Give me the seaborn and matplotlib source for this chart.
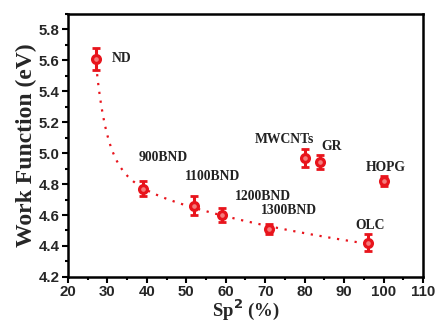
import numpy as np
import pandas as pd
import matplotlib
matplotlib.use("Agg")
import matplotlib.pyplot as plt
import seaborn as sns
from matplotlib.ticker import MultipleLocator

# ---- data ----
labels = ["ND", "900BND", "1100BND", "1200BND", "1300BND", "MWCNTs", "GR", "HOPG", "OLC"]
sp2 = [27, 39, 52, 59, 71, 80, 84, 100, 96]
work_function = [5.61, 4.77, 4.66, 4.60, 4.51, 4.97, 4.94, 4.82, 4.42]
errors = [0.07, 0.05, 0.06, 0.045, 0.035, 0.058, 0.045, 0.032, 0.055]
# samples included in the dotted fit curve
fit_members = ["ND", "900BND", "1100BND", "1200BND", "1300BND", "OLC"]
# label anchor (left, centre) positions in data coords
label_x = [31.0, 37.8, 49.7, 62.4, 69.0, 67.4, 84.3, 95.4, 92.8]
label_y = [5.61, 4.97, 4.85, 4.72, 4.63, 5.09, 5.04, 4.91, 4.53]

df = pd.DataFrame({"label": labels, "sp2": sp2, "wf": work_function, "err": errors})

# ---- least-squares fit y = c + d*ln(x) + a*x^b to the chosen samples (grid over b) ----
fd = df[df["label"].isin(fit_members)]
xf = fd["sp2"].to_numpy(float)
yf = fd["wf"].to_numpy(float)
best = None
for b in np.linspace(-20, -1.0, 1900):
    A = np.vstack([np.ones_like(xf), np.log(xf), xf ** b]).T
    coef, *_ = np.linalg.lstsq(A, yf, rcond=None)
    r = np.sum((A @ coef - yf) ** 2)
    if best is None or r < best[0]:
        best = (r, b, coef)
_, bb, coef = best
xc = np.linspace(xf.min() + 0.4, xf.max(), 400)
Ac = np.vstack([np.ones_like(xc), np.log(xc), xc ** bb]).T
curve = pd.DataFrame({"x": xc, "y": Ac @ coef})

sns.set_style("ticks")
plt.rcParams["font.family"] = ["Liberation Sans", "DejaVu Sans"]

fig = plt.figure(figsize=(4.38, 3.22), dpi=100)
ax = fig.add_axes([0.155, 0.140, 0.811, 0.817])

red = "#e8141c"
sns.lineplot(data=curve, x="x", y="y", ax=ax, color=red, linestyle=(0, (1, 3)),
             linewidth=1.6, legend=False)
ax.errorbar(df["sp2"], df["wf"], yerr=df["err"], fmt="none", ecolor=red,
            elinewidth=2.2, capsize=3.2, capthick=2.0, zorder=3)
sns.scatterplot(data=df, x="sp2", y="wf", ax=ax, marker="o", s=32,
                facecolor="#f47c7c", edgecolor=red, linewidth=2.3, zorder=4, legend=False)

for t, x, y in zip(labels, label_x, label_y):
    ax.text(x, y, t, ha="left", va="center", fontsize=9.8, fontweight="bold",
            family="Liberation Serif", color="#222222")

ax.set_xlim(20, 110)
ax.set_ylim(4.2, 5.9)
ax.xaxis.set_major_locator(MultipleLocator(10))
ax.xaxis.set_minor_locator(MultipleLocator(5))
ax.yaxis.set_major_locator(MultipleLocator(0.2))
ax.yaxis.set_minor_locator(MultipleLocator(0.1))
ax.tick_params(which="both", direction="out", top=False, right=False, width=1.5, color="black")
ax.tick_params(which="major", length=4, labelsize=10.8, pad=2)
ax.tick_params(which="minor", length=2.5)
for lab in ax.get_xticklabels() + ax.get_yticklabels():
    lab.set_fontweight("bold")
for sp in ax.spines.values():
    sp.set_visible(True)
    sp.set_linewidth(1.8)
    sp.set_color("black")

ax.set_xlabel("Sp$^\\mathbf{2}$ (%)", fontsize=13.5, fontweight="bold",
              family="Liberation Serif", labelpad=-1)
ax.set_ylabel("Work Function (eV)", fontsize=17, fontweight="bold",
              family="Liberation Serif", labelpad=1)
ax.grid(False)

fig.savefig("out.png", dpi=100)
